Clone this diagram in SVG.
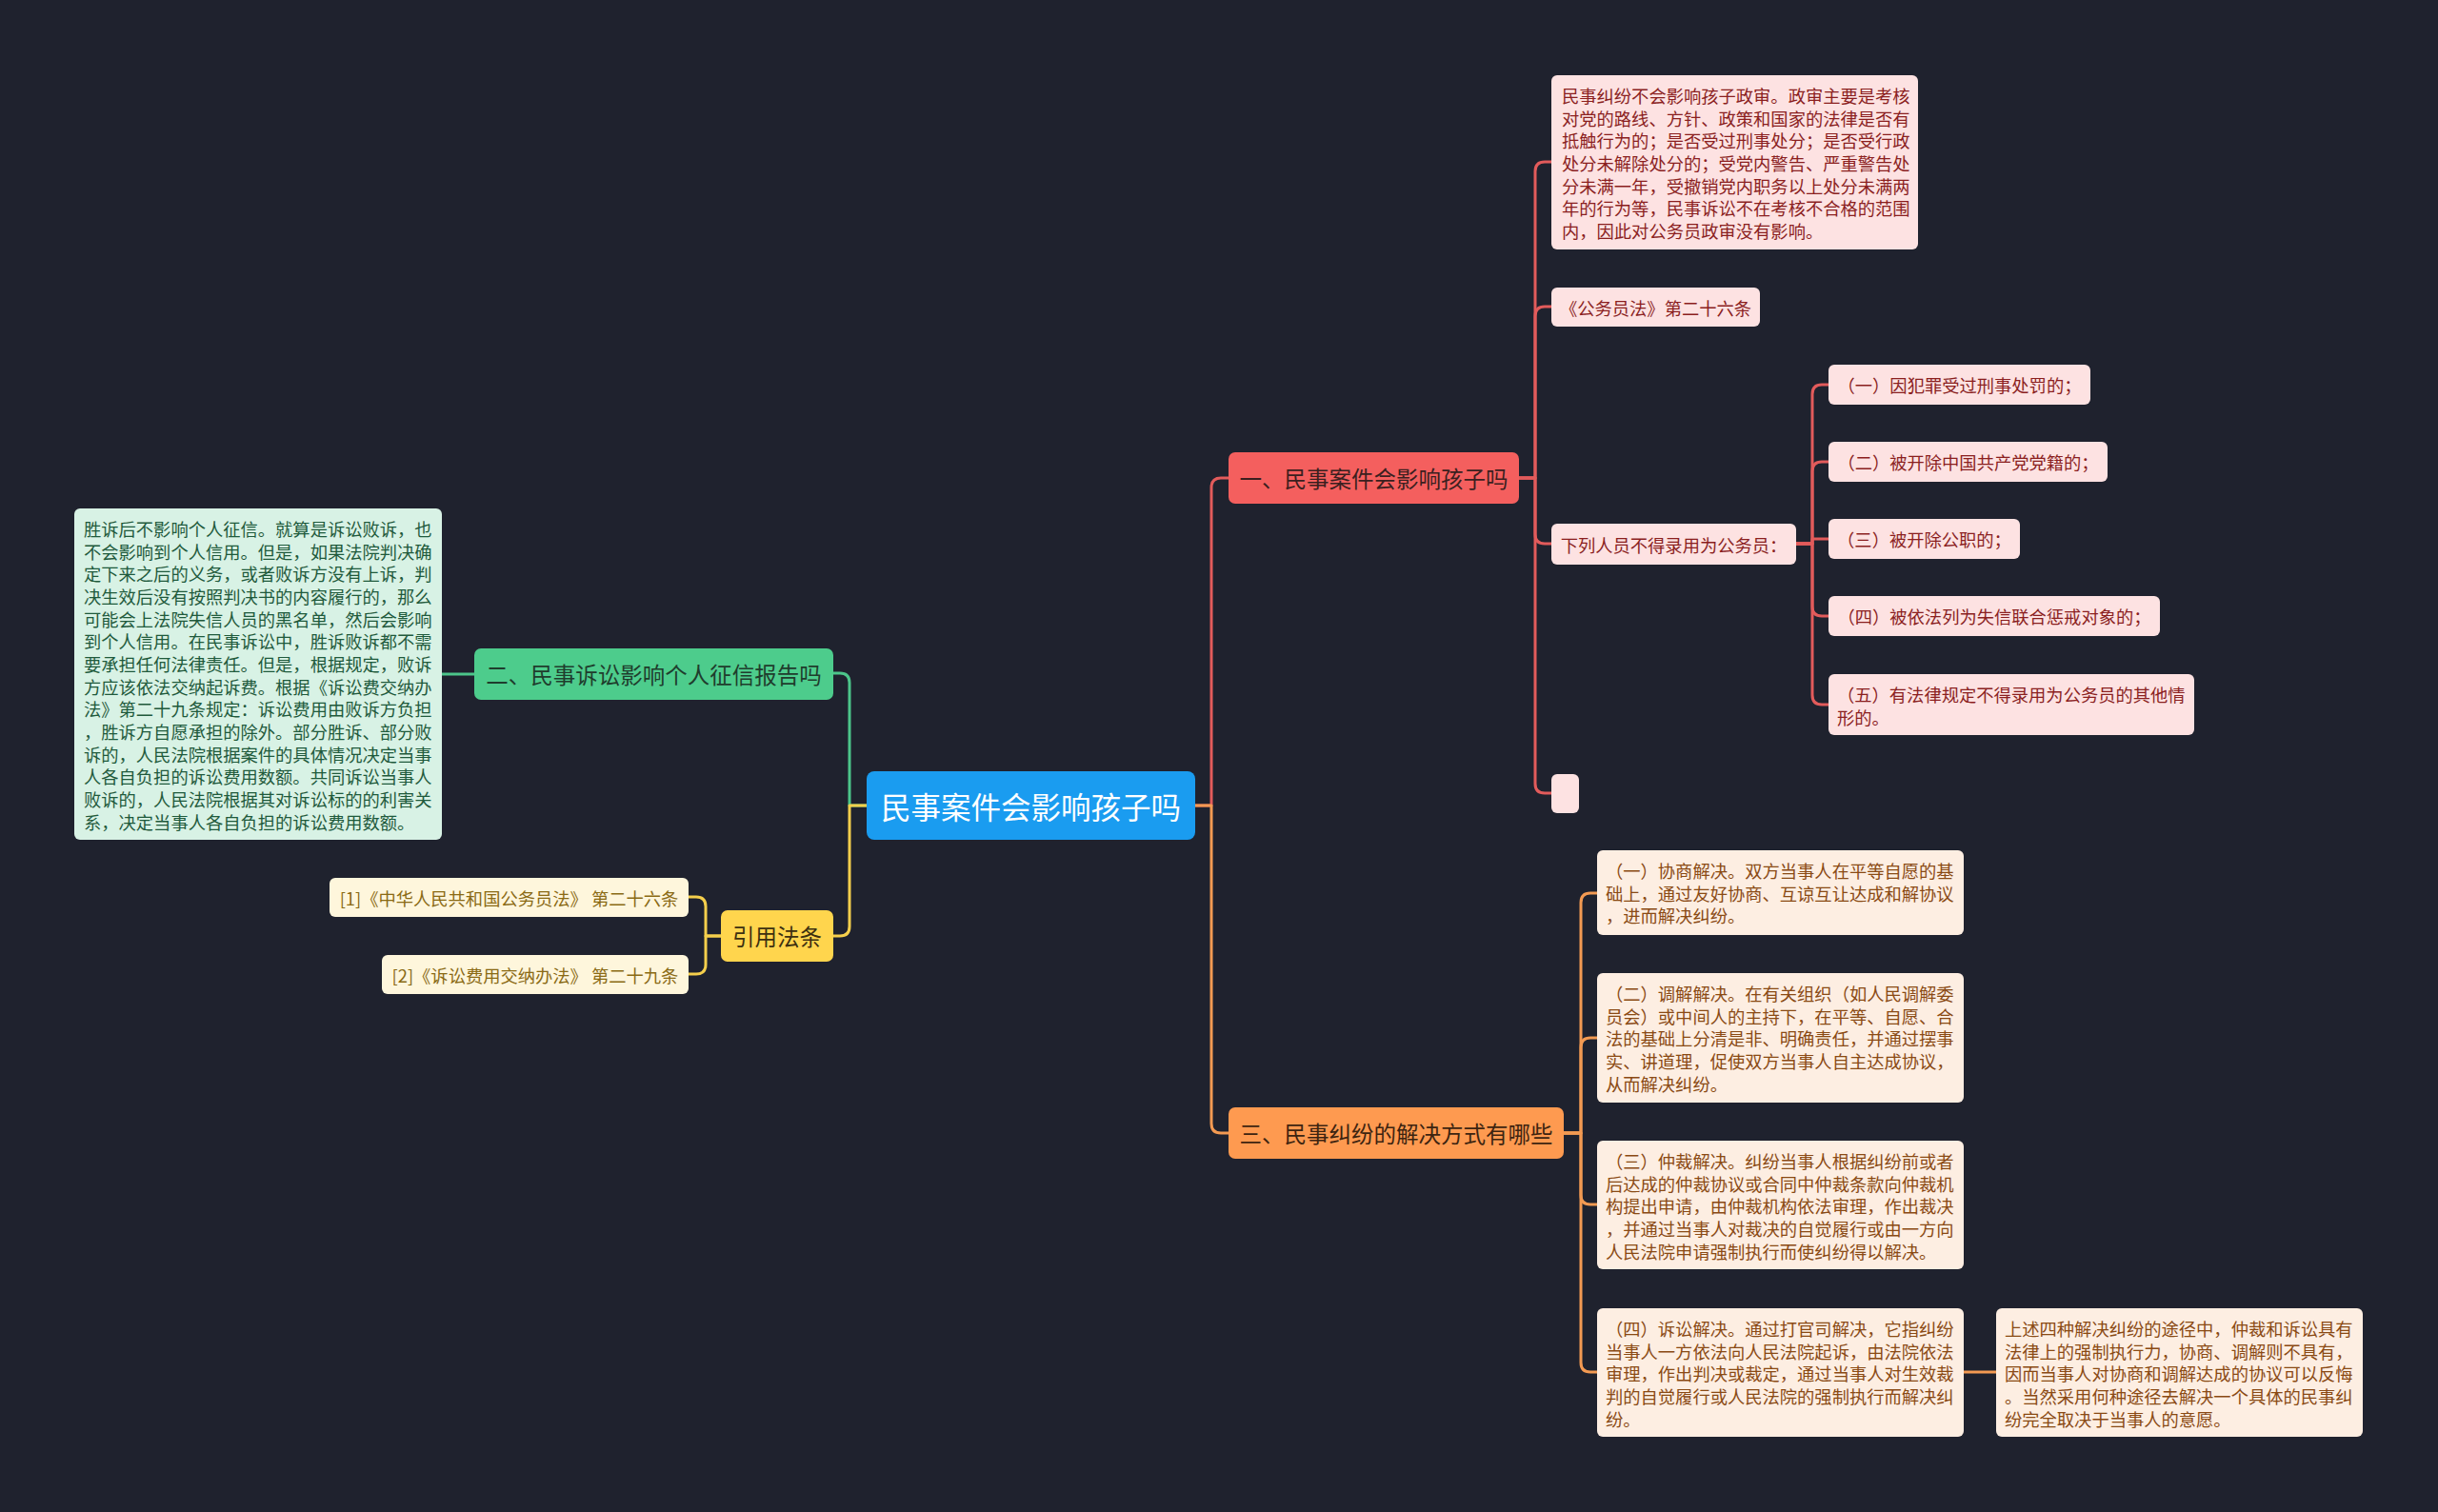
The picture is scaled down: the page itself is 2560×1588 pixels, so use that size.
<svg xmlns="http://www.w3.org/2000/svg" width="2560" height="1588" viewBox="0 0 2560 1588">
<style>
text{font-family:"Noto Sans CJK SC","Microsoft YaHei",sans-serif;dominant-baseline:central}
.c{fill:none;stroke-width:3;stroke-linejoin:round}
.cr{stroke:#e25b5b}.co{stroke:#f39a52}.cg{stroke:#4cc58a}.cy{stroke:#f5cf4c}
.t18{font-size:18.3px}
.br{font-size:23.5px}
.mid{text-anchor:middle}
.nr{fill:#fde2e2}.tr{fill:#8b1f1f}
.no{fill:#fdeee2}.to{fill:#8a4a14}
.ng{fill:#d8f2e5}.tg{fill:#1f5a3c}
.ny{fill:#fef6dc}.ty{fill:#8a6a14}
</style>
<rect width="2560" height="1588" fill="#1f222e"/>
<g id="connectors">
<path class="c cr" d="M1255 846H1272V512Q1272 502 1282 502H1290"/>
<path class="c co" d="M1255 846H1272V1180Q1272 1190 1282 1190H1290"/>
<path class="c cg" d="M910 846H892V717Q892 707 882 707H875"/>
<path class="c cy" d="M910 846H892V973Q892 983 882 983H875"/>
<path class="c cg" d="M498 708H464"/>
<path class="c cy" d="M757 983H741V952Q741 942 731 942H723"/>
<path class="c cy" d="M757 983H741V1013Q741 1023 731 1023H723"/>
<path class="c cr" d="M1595 502H1612V180Q1612 170 1622 170H1629"/>
<path class="c cr" d="M1595 502H1612V332Q1612 322 1622 322H1629"/>
<path class="c cr" d="M1595 502H1612V561Q1612 571 1622 571H1629"/>
<path class="c cr" d="M1595 502H1612V823Q1612 833 1622 833H1629"/>
<path class="c cr" d="M1886 571H1903V414Q1903 404 1913 404H1920"/>
<path class="c cr" d="M1886 571H1903V495Q1903 485 1913 485H1920"/>
<path class="c cr" d="M1886 571H1903V566H1920"/>
<path class="c cr" d="M1886 571H1903V637Q1903 647 1913 647H1920"/>
<path class="c cr" d="M1886 571H1903V730Q1903 740 1913 740H1920"/>
<path class="c co" d="M1642 1190H1660V948Q1660 938 1670 938H1677"/>
<path class="c co" d="M1642 1190H1660V1100Q1660 1090 1670 1090H1677"/>
<path class="c co" d="M1642 1190H1660V1255Q1660 1265 1670 1265H1677"/>
<path class="c co" d="M1642 1190H1660V1431Q1660 1441 1670 1441H1677"/>
<path class="c co" d="M2061 1441H2096"/>
</g>
<g id="root">
<rect x="910" y="810" width="345" height="72" rx="8" fill="#1a9cf0"/>
<text x="1082.5" y="846" class="mid" font-size="31.5" fill="#ffffff">民事案件会影响孩子吗</text>
</g>
<g id="b1">
<rect x="1290" y="475" width="305" height="54" rx="7" fill="#f45f5e"/>
<text x="1442.5" y="502" class="br mid" fill="#3b1f1f">一、民事案件会影响孩子吗</text>
</g>
<g id="b3">
<rect x="1290" y="1163" width="352" height="54" rx="7" fill="#fe9a50"/>
<text x="1466" y="1190" class="br mid" fill="#3d2410">三、民事纠纷的解决方式有哪些</text>
</g>
<g id="b2">
<rect x="498" y="681" width="377" height="54" rx="7" fill="#4dcc8c"/>
<text x="686.5" y="708" class="br mid" fill="#1f3d2d">二、民事诉讼影响个人征信报告吗</text>
</g>
<g id="b4">
<rect x="757" y="956" width="118" height="54" rx="7" fill="#ffd54d"/>
<text x="816" y="983" class="br mid" fill="#3d3010">引用法条</text>
</g>
<g id="n-zhengshen">
<rect x="1629" y="79" width="385" height="183" rx="6" class="nr"/>
<text class="t18 tr" x="1640">
<tspan x="1640" y="100">民事纠纷不会影响孩子政审。政审主要是考核</tspan>
<tspan x="1640" y="123.7">对党的路线、方针、政策和国家的法律是否有</tspan>
<tspan x="1640" y="147.3">抵触行为的；是否受过刑事处分；是否受行政</tspan>
<tspan x="1640" y="171">处分未解除处分的；受党内警告、严重警告处</tspan>
<tspan x="1640" y="194.7">分未满一年，受撤销党内职务以上处分未满两</tspan>
<tspan x="1640" y="218.3">年的行为等，民事诉讼不在考核不合格的范围</tspan>
<tspan x="1640" y="242">内，因此对公务员政审没有影响。</tspan>
</text>
</g>
<g id="n-law26">
<rect x="1629" y="302" width="219" height="41" rx="6" class="nr"/>
<text x="1738.5" y="322.5" class="t18 tr mid">《公务员法》第二十六条</text>
</g>
<g id="n-xialie">
<rect x="1629" y="550" width="257" height="43" rx="6" class="nr"/>
<text x="1757.5" y="571.5" class="t18 tr mid">下列人员不得录用为公务员：</text>
</g>
<g id="n-empty">
<rect x="1629" y="813" width="29" height="41" rx="6" class="nr"/>
</g>
<g id="n-x1">
<rect x="1920" y="383" width="275" height="42" rx="6" class="nr"/>
<text x="2057.5" y="404" class="t18 tr mid">（一）因犯罪受过刑事处罚的；</text>
</g>
<g id="n-x2">
<rect x="1920" y="464" width="293" height="42" rx="6" class="nr"/>
<text x="2066.5" y="485" class="t18 tr mid">（二）被开除中国共产党党籍的；</text>
</g>
<g id="n-x3">
<rect x="1920" y="545" width="201" height="42" rx="6" class="nr"/>
<text x="2020.5" y="566" class="t18 tr mid">（三）被开除公职的；</text>
</g>
<g id="n-x4">
<rect x="1920" y="626" width="348" height="42" rx="6" class="nr"/>
<text x="2094" y="647" class="t18 tr mid">（四）被依法列为失信联合惩戒对象的；</text>
</g>
<g id="n-x5">
<rect x="1920" y="708" width="384" height="64" rx="6" class="nr"/>
<text class="t18 tr">
<tspan x="1929" y="729">（五）有法律规定不得录用为公务员的其他情</tspan>
<tspan x="1929" y="752.7">形的。</tspan>
</text>
</g>
<g id="n-credit">
<rect x="78" y="534" width="386" height="348" rx="6" class="ng"/>
<text class="t18 tg">
<tspan x="88" y="555">胜诉后不影响个人征信。就算是诉讼败诉，也</tspan>
<tspan x="88" y="578.7">不会影响到个人信用。但是，如果法院判决确</tspan>
<tspan x="88" y="602.3">定下来之后的义务，或者败诉方没有上诉，判</tspan>
<tspan x="88" y="626">决生效后没有按照判决书的内容履行的，那么</tspan>
<tspan x="88" y="649.7">可能会上法院失信人员的黑名单，然后会影响</tspan>
<tspan x="88" y="673.3">到个人信用。在民事诉讼中，胜诉败诉都不需</tspan>
<tspan x="88" y="697">要承担任何法律责任。但是，根据规定，败诉</tspan>
<tspan x="88" y="720.7">方应该依法交纳起诉费。根据《诉讼费交纳办</tspan>
<tspan x="88" y="744.3">法》第二十九条规定：诉讼费用由败诉方负担</tspan>
<tspan x="88" y="768">，胜诉方自愿承担的除外。部分胜诉、部分败</tspan>
<tspan x="88" y="791.7">诉的，人民法院根据案件的具体情况决定当事</tspan>
<tspan x="88" y="815.3">人各自负担的诉讼费用数额。共同诉讼当事人</tspan>
<tspan x="88" y="839">败诉的，人民法院根据其对诉讼标的的利害关</tspan>
<tspan x="88" y="862.7">系，决定当事人各自负担的诉讼费用数额。</tspan>
</text>
</g>
<g id="n-ref1">
<rect x="346" y="922" width="377" height="41" rx="6" class="ny"/>
<text x="534.5" y="942.5" class="t18 ty mid">[1]《中华人民共和国公务员法》 第二十六条</text>
</g>
<g id="n-ref2">
<rect x="401" y="1003" width="322" height="41" rx="6" class="ny"/>
<text x="562" y="1023.5" class="t18 ty mid">[2]《诉讼费用交纳办法》 第二十九条</text>
</g>
<g id="n-o1">
<rect x="1677" y="893" width="385" height="89" rx="6" class="no"/>
<text class="t18 to">
<tspan x="1686" y="914">（一）协商解决。双方当事人在平等自愿的基</tspan>
<tspan x="1686" y="937.7">础上，通过友好协商、互谅互让达成和解协议</tspan>
<tspan x="1686" y="961.3">，进而解决纠纷。</tspan>
</text>
</g>
<g id="n-o2">
<rect x="1677" y="1022" width="385" height="136" rx="6" class="no"/>
<text class="t18 to">
<tspan x="1686" y="1043">（二）调解解决。在有关组织（如人民调解委</tspan>
<tspan x="1686" y="1066.7">员会）或中间人的主持下，在平等、自愿、合</tspan>
<tspan x="1686" y="1090.3">法的基础上分清是非、明确责任，并通过摆事</tspan>
<tspan x="1686" y="1114">实、讲道理，促使双方当事人自主达成协议，</tspan>
<tspan x="1686" y="1137.7">从而解决纠纷。</tspan>
</text>
</g>
<g id="n-o3">
<rect x="1677" y="1198" width="385" height="135" rx="6" class="no"/>
<text class="t18 to">
<tspan x="1686" y="1219">（三）仲裁解决。纠纷当事人根据纠纷前或者</tspan>
<tspan x="1686" y="1242.7">后达成的仲裁协议或合同中仲裁条款向仲裁机</tspan>
<tspan x="1686" y="1266.3">构提出申请，由仲裁机构依法审理，作出裁决</tspan>
<tspan x="1686" y="1290">，并通过当事人对裁决的自觉履行或由一方向</tspan>
<tspan x="1686" y="1313.7">人民法院申请强制执行而使纠纷得以解决。</tspan>
</text>
</g>
<g id="n-o4">
<rect x="1677" y="1374" width="385" height="135" rx="6" class="no"/>
<text class="t18 to">
<tspan x="1686" y="1395">（四）诉讼解决。通过打官司解决，它指纠纷</tspan>
<tspan x="1686" y="1418.7">当事人一方依法向人民法院起诉，由法院依法</tspan>
<tspan x="1686" y="1442.3">审理，作出判决或裁定，通过当事人对生效裁</tspan>
<tspan x="1686" y="1466">判的自觉履行或人民法院的强制执行而解决纠</tspan>
<tspan x="1686" y="1489.7">纷。</tspan>
</text>
</g>
<g id="n-summary">
<rect x="2096" y="1374" width="385" height="135" rx="6" class="no"/>
<text class="t18 to">
<tspan x="2105" y="1395">上述四种解决纠纷的途径中，仲裁和诉讼具有</tspan>
<tspan x="2105" y="1418.7">法律上的强制执行力，协商、调解则不具有，</tspan>
<tspan x="2105" y="1442.3">因而当事人对协商和调解达成的协议可以反悔</tspan>
<tspan x="2105" y="1466">。当然采用何种途径去解决一个具体的民事纠</tspan>
<tspan x="2105" y="1489.7">纷完全取决于当事人的意愿。</tspan>
</text>
</g>
</svg>
